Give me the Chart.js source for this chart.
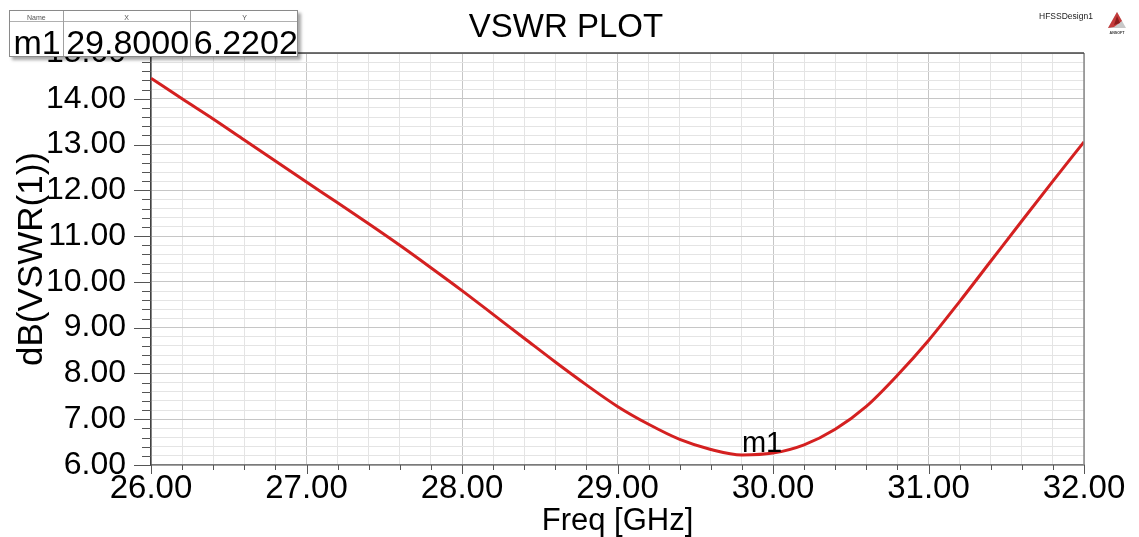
<!DOCTYPE html>
<html>
<head>
<meta charset="utf-8">
<script src="https://cdn.jsdelivr.net/npm/chart.js@4.4.1/dist/chart.umd.min.js"></script>
<style>
html,body{margin:0;padding:0;background:#fff;}
#wrap{position:relative;width:1139px;height:537px;overflow:hidden;font-family:"Liberation Sans",Arial,sans-serif;}
#c{position:absolute;left:0;top:0;}
.abs{position:absolute;white-space:nowrap;line-height:1;color:#000;}
#mk{position:absolute;left:9px;top:10px;width:289px;height:47px;background:#fff;border:1px solid #8a8a8a;box-sizing:border-box;box-shadow:3px 3px 3px rgba(0,0,0,0.35);}
#mk .hl{position:absolute;left:0;right:0;top:10px;height:0;border-top:1px solid #b0b0b0;}
#mk .vl{position:absolute;top:0;bottom:0;width:0;border-left:1px solid #a0a0a0;}
#mk .h{position:absolute;top:2.6px;font-size:7px;line-height:1;color:#555;text-align:center;}
#mk .v{position:absolute;top:14px;font-size:34px;line-height:1;color:#000;white-space:nowrap;}
</style>
</head>
<body>
<div id="wrap">
  <canvas id="c" width="1139" height="537"></canvas>
  <div class="abs" id="title" style="font-size:33px;top:9.4px;left:566px;transform:translateX(-50%);">VSWR PLOT</div>
  <div class="abs" style="font-size:8.5px;top:11.8px;left:1039px;color:#222;">HFSSDesign1</div>
  <svg style="position:absolute;left:1106px;top:11px;" width="22" height="24" viewBox="0 0 22 24">
    <polygon points="11,1 20,17 2,17" fill="#c8c8c8"/>
    <polygon points="11,1 16,10 8,16 2,17" fill="#c43a3a"/>
    <polygon points="11,5 14,12 8,14" fill="#8c1c1c"/>
    <text x="11" y="22.5" font-size="3.6" text-anchor="middle" font-family="Liberation Sans, Arial" font-weight="bold" fill="#333">ANSOFT</text>
  </svg>
  <div id="mk"></div>
</div>
<script>
// ---- data ----
const freqGHz = [26.0, 26.2, 26.4, 26.6, 26.8, 27.0, 27.2, 27.4, 27.6, 27.8,
                 28.0, 28.2, 28.4, 28.6, 28.8, 29.0, 29.2, 29.4, 29.6, 29.8,
                 30.0, 30.2, 30.4, 30.6, 30.8, 31.0, 31.2, 31.4, 31.6, 31.8, 32.0];
const vswrDb  = [14.45, 14.00, 13.56, 13.10, 12.64, 12.18, 11.73, 11.27, 10.80, 10.31,
                 9.81, 9.29, 8.77, 8.25, 7.75, 7.28, 6.89, 6.56, 6.34, 6.22,
                 6.26, 6.44, 6.78, 7.28, 7.96, 8.72, 9.57, 10.45, 11.33, 12.20, 13.06];
const xMajorTicks = [26, 27, 28, 29, 30, 31, 32];
const yMajorTicks = [6, 7, 8, 9, 10, 11, 12, 13, 14, 15];
const markerHeaders = ['Name', 'X', 'Y'];
const markerName = ['m1'];
const markerX = [29.8];
const markerY = [6.2202];

const FONT = '"Liberation Sans", Arial, sans-serif';
const isMajor = (v, arr) => arr.some(m => Math.abs(m - v) < 1e-6);

// marker table (HTML text)
(function(){
  const mk = document.getElementById('mk');
  const cols = [0, 52.7, 180.3, 289];
  let html = '<div class="hl"></div>';
  html += '<div class="vl" style="left:' + cols[1] + 'px"></div><div class="vl" style="left:' + cols[2] + 'px"></div>';
  for (let i = 0; i < 3; i++) {
    html += '<div class="h" style="left:' + cols[i] + 'px;width:' + (cols[i+1]-cols[i]) + 'px">' + markerHeaders[i] + '</div>';
  }
  const vals = [markerName[0], markerX[0].toFixed(4), markerY[0].toFixed(4)];
  for (let i = 0; i < 3; i++) {
    html += '<div class="v" style="left:' + (cols[i] + 3.5) + 'px">' + vals[i] + '</div>';
  }
  mk.innerHTML = html;
})();

const framePlugin = {
  id: 'frame',
  afterDatasetsDraw(chart) {
    const {ctx, chartArea: a, scales: {x, y}} = chart;
    ctx.save();
    ctx.lineWidth = 1.5;
    ctx.strokeStyle = '#8a8a8a';
    ctx.beginPath();
    ctx.moveTo(a.right, a.top); ctx.lineTo(a.right, a.bottom);
    ctx.stroke();
    ctx.strokeStyle = '#444';
    ctx.beginPath();
    ctx.moveTo(a.left, a.top); ctx.lineTo(a.right, a.top);
    ctx.stroke();
    ctx.strokeStyle = '#555';
    ctx.lineWidth = 1;
    y.ticks.forEach(t => {
      const py = Math.round(y.getPixelForValue(t.value)) + 0.5;
      const len = isMajor(t.value, yMajorTicks) ? 17 : 9;
      ctx.beginPath(); ctx.moveTo(a.left - len, py); ctx.lineTo(a.left, py); ctx.stroke();
    });
    x.ticks.forEach(t => {
      const px = Math.round(x.getPixelForValue(t.value)) + 0.5;
      const len = isMajor(t.value, xMajorTicks) ? 9 : 5;
      ctx.beginPath(); ctx.moveTo(px, a.bottom); ctx.lineTo(px, a.bottom + len); ctx.stroke();
    });
    ctx.fillStyle = '#000';
    ctx.font = '29px ' + FONT;
    ctx.textAlign = 'left';
    ctx.textBaseline = 'alphabetic';
    markerName.forEach((n, i) => {
      const px = x.getPixelForValue(markerX[i]);
      const py = y.getPixelForValue(markerY[i]);
      ctx.fillText(n, px, py - 3);
    });
    ctx.restore();
  }
};

new Chart(document.getElementById('c'), {
  type: 'line',
  data: {
    datasets: [{
      data: freqGHz.map((f, i) => ({x: f, y: vswrDb[i]})),
      borderColor: '#d42020',
      borderWidth: 3,
      pointRadius: 0,
      cubicInterpolationMode: 'monotone',
      fill: false
    }]
  },
  options: {
    responsive: false,
    animation: false,
    devicePixelRatio: 1,
    layout: {padding: {left: 0, right: 55, top: 53, bottom: 0}},
    plugins: {legend: {display: false}, tooltip: {enabled: false}, title: {display: false}},
    scales: {
      x: {
        type: 'linear', min: 26, max: 32,
        afterFit: s => { s.height = 72; },
        border: {display: true, color: '#7a7a7a', width: 1.5},
        grid: {
          drawTicks: false,
          color: c => isMajor(c.tick.value, xMajorTicks) ? '#c6c6c6' : '#e4e4e4',
          lineWidth: 1
        },
        ticks: {
          stepSize: 0.2, autoSkip: false, maxRotation: 0, padding: 4,
          color: '#000', font: {family: FONT, size: 33},
          callback: v => isMajor(v, xMajorTicks) ? Number(v).toFixed(2) : ''
        },
        title: {display: true, text: 'Freq [GHz]', color: '#000', font: {family: FONT, size: 31}, padding: {top: 0, bottom: -3}}
      },
      y: {
        type: 'linear', min: 6, max: 15,
        afterFit: s => { s.width = 151; },
        border: {display: true, color: '#404040', width: 1.5},
        grid: {
          drawTicks: false,
          color: c => isMajor(c.tick.value, yMajorTicks) ? '#c6c6c6' : '#e4e4e4',
          lineWidth: 1
        },
        ticks: {
          stepSize: 0.2, autoSkip: false, padding: 25,
          color: '#000', font: {family: FONT, size: 32},
          callback: v => isMajor(v, yMajorTicks) ? Number(v).toFixed(2) : ''
        },
        title: {display: true, text: 'dB(VSWR(1))', color: '#000', font: {family: FONT, size: 35}, padding: {top: 11, bottom: 0}}
      }
    }
  },
  plugins: [framePlugin]
});
</script>
</body>
</html>
